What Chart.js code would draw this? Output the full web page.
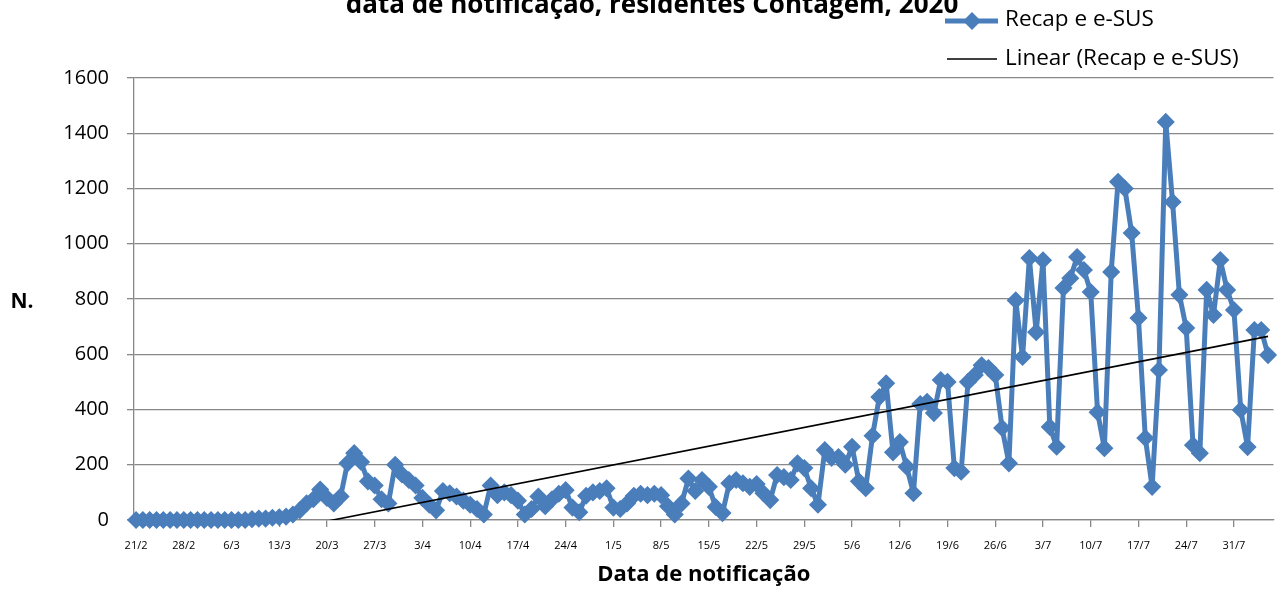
<!DOCTYPE html>
<html>
<head>
<meta charset="utf-8">
<script src="https://cdn.jsdelivr.net/npm/chart.js@4.4.0/dist/chart.umd.min.js"></script>
<style>
  html, body { margin: 0; padding: 0; background: #fff; }
  #wrap { position: relative; width: 1283px; height: 589px; }
</style>
</head>
<body>
<div id="wrap"><canvas id="chart" width="1283" height="589"></canvas></div>
<script>
// one value per day, starting 21/2
const tickLabels = ['21/2', '28/2', '6/3', '13/3', '20/3', '27/3', '3/4', '10/4', '17/4', '24/4',
  '1/5', '8/5', '15/5', '22/5', '29/5', '5/6', '12/6', '19/6', '26/6', '3/7', '10/7', '17/7', '24/7', '31/7'];
const yTicks = [0, 200, 400, 600, 800, 1000, 1200, 1400, 1600];
const cases = [
  0, 0, 0, 0, 0, 0, 0, 0, 0, 0, 0, 0, 0, 0, 0, 0, 0,
  3, 5, 5, 8, 10, 12, 20, 35, 60,
  75, 110, 80, 60, 85, 205, 242, 210, 140, 125, 75, 60, 200, 165,
  145, 125, 80, 55, 35, 105, 97, 85, 70, 55, 40, 20, 125, 90, 100,
  90, 70, 20, 40, 85, 50, 75, 95, 108, 45, 28, 88, 100, 105, 115,
  45, 40, 60, 88, 95, 90, 95, 90, 50, 20, 60, 150, 105, 145, 120,
  47, 25, 133, 145, 133, 120, 130, 97, 72, 163, 155, 145, 205, 188, 115,
  55, 253, 225, 228, 200, 265, 140, 115, 305, 445, 495, 245, 282, 193, 97,
  420, 428, 387, 507, 500, 188, 175, 500, 525, 560, 550, 525, 333, 205, 795,
  590, 948, 680, 940, 337, 265, 840, 875, 952, 905, 825, 390, 260, 898, 1224,
  1200, 1039, 731, 297, 120, 543, 1441, 1151, 815, 695, 271, 242, 833, 742, 941,
  833, 760, 398, 264, 688, 688, 597
];
const seriesName = 'Recap e e-SUS';
const trendName = 'Linear (Recap e e-SUS)';
const titleText = 'data de notificação, residentes Contagem, 2020';
const xTitle = 'Data de notificação';
const yTitle = 'N.';

const blue = '#4a7ebb';
const gridGray = '#888888';
const font = 'Open Sans';

// least squares trend, like Excel's linear trendline
const n = cases.length;
let sx = 0, sy = 0, sxy = 0, sxx = 0;
cases.forEach((v, i) => { sx += i; sy += v; sxy += i * v; sxx += i * i; });
const slope = (n * sxy - sx * sy) / (n * sxx - sx * sx);
const intercept = (sy - slope * sx) / n;

const decor = {
  id: 'decor',
  afterDraw(chart) {
    const ctx = chart.ctx;
    const area = chart.chartArea;
    ctx.save();
    ctx.fillStyle = '#000';

    // title, cut off at the top of the picture
    ctx.font = 'bold 26px "' + font + '"';
    ctx.textAlign = 'center';
    ctx.textBaseline = 'alphabetic';
    ctx.fillText(titleText, 652, 13);

    ctx.font = 'bold 21px "' + font + '"';
    ctx.textBaseline = 'middle';
    ctx.fillText(yTitle, 22, 302);
    ctx.font = 'bold 22px "' + font + '"';
    ctx.fillText(xTitle, (area.left + area.right) / 2, 575);

    // legend
    ctx.font = '22.5px "' + font + '"';
    ctx.textAlign = 'left';
    ctx.strokeStyle = blue;
    ctx.lineWidth = 5;
    ctx.beginPath();
    ctx.moveTo(945, 21);
    ctx.lineTo(998, 21);
    ctx.stroke();
    ctx.fillStyle = blue;
    ctx.beginPath();
    ctx.moveTo(972 - 9, 21);
    ctx.lineTo(972, 21 - 9);
    ctx.lineTo(972 + 9, 21);
    ctx.lineTo(972, 21 + 9);
    ctx.closePath();
    ctx.fill();
    ctx.fillStyle = '#000';
    ctx.fillText(seriesName, 1005, 20);

    ctx.strokeStyle = '#000';
    ctx.lineWidth = 1.6;
    ctx.beginPath();
    ctx.moveTo(947, 59);
    ctx.lineTo(997, 59);
    ctx.stroke();
    ctx.fillText(trendName, 1005, 59);
    ctx.restore();
  }
};

new Chart(document.getElementById('chart'), {
  type: 'line',
  data: {
    datasets: [
      {
        label: trendName,
        data: [{ x: 0, y: intercept }, { x: n - 1, y: intercept + slope * (n - 1) }],
        borderColor: '#000',
        borderWidth: 1.6,
        pointRadius: 0,
        order: 0
      },
      {
        label: seriesName,
        data: cases.map((v, i) => ({ x: i, y: v })),
        borderColor: blue,
        backgroundColor: blue,
        borderWidth: 5,
        borderJoinStyle: 'round',
        pointStyle: 'rectRot',
        pointRadius: 8,
        pointBorderWidth: 1.5,
        pointBackgroundColor: blue,
        pointBorderColor: blue,
        tension: 0,
        clip: false,
        order: 1
      }
    ]
  },
  options: {
    responsive: false,
    animation: false,
    devicePixelRatio: 1,
    layout: { padding: { top: 78, right: 3, left: 0, bottom: 0 } },
    plugins: { legend: { display: false }, tooltip: { enabled: false } },
    scales: {
      x: {
        type: 'linear',
        min: -0.3,
        max: 166.8,
        grid: { drawOnChartArea: false, drawTicks: true, tickLength: 7, color: gridGray, lineWidth: 1.3 },
        border: { color: gridGray, width: 1.3 },
        ticks: {
          font: { family: font, size: 11 },
          color: '#000',
          padding: 12,
          maxRotation: 0,
          autoSkip: false,
          callback: (value, index) => tickLabels[index]
        },
        afterBuildTicks: (scale) => { scale.ticks = tickLabels.map((_, i) => ({ value: i * 7 })); },
        afterFit: (scale) => { scale.height = 69; }
      },
      y: {
        min: 0,
        max: 1600,
        grid: { color: gridGray, lineWidth: 1.3, tickLength: 7 },
        border: { color: gridGray, width: 1.3 },
        ticks: {
          font: { family: font, size: 20 },
          color: '#000',
          padding: 18,
          callback: (value) => String(value)
        },
        afterBuildTicks: (scale) => { scale.ticks = yTicks.map(v => ({ value: v })); },
        afterFit: (scale) => { scale.width = 134; }
      }
    }
  },
  plugins: [decor]
});
</script>
</body>
</html>
